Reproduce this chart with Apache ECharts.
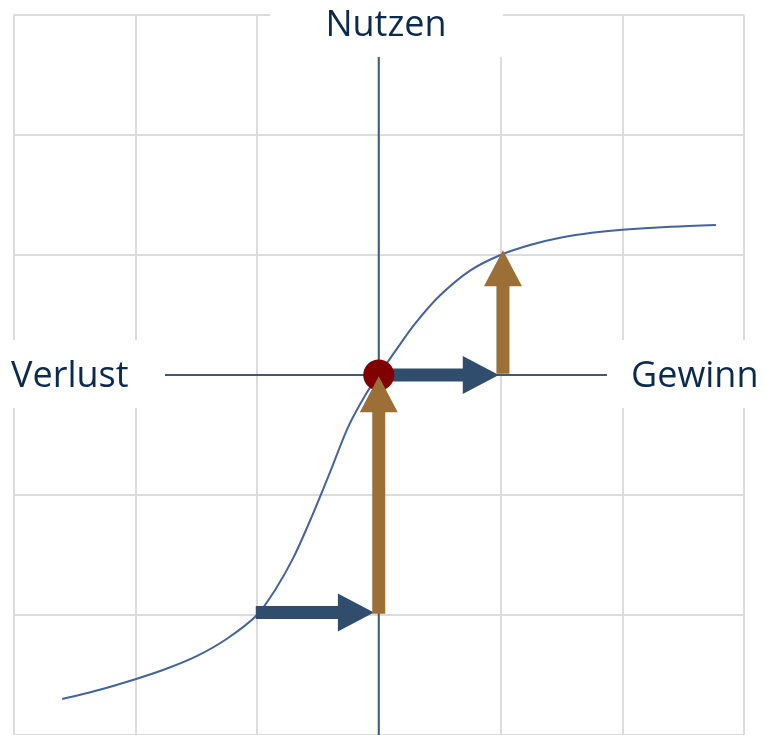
<!DOCTYPE html>
<html>
<head>
<meta charset="utf-8">
<script src="https://cdn.jsdelivr.net/npm/echarts@6/dist/echarts.min.js"></script>
<style>html,body{margin:0;padding:0;background:#fff;}#c{width:765px;height:735px;}</style>
</head>
<body>
<div id="c"></div>
<script>
// Curve (utility function) points
const curveX = [-2.6, -2.3, -2.0, -1.75, -1.5, -1.25, -1.0, -0.85, -0.7, -0.55, -0.4, -0.25, -0.1, 0, 0.15, 0.3, 0.5, 0.75, 1.0, 1.25, 1.5, 1.75, 2.0, 2.4, 2.77];
const curveY = [-2.70, -2.625, -2.535, -2.45, -2.345, -2.20, -2.0, -1.79, -1.52, -1.18, -0.81, -0.43, -0.15, 0, 0.22, 0.43, 0.66, 0.87, 1.0, 1.085, 1.145, 1.185, 1.21, 1.235, 1.25];
// Axis lines [x0, y0, x1, y1]
const axisLines = [[-3.1, 0, 3.1, 0], [0, 3.1, 0, -3.1]];
// Arrows [xStart, yStart, xEnd, yEnd]
const blueArrows = [[-1.01, -1.98, -0.04, -1.98], [0, 0, 0.986, 0]];
const brownArrows = [[0, -1.99, 0, -0.01], [1.02, 0.01, 1.02, 1.04]];
// Reference point
const refPoint = [[0, 0]];
// Axis titles
const labelTop = 'Nutzen';
const labelLeft = 'Verlust';
const labelRight = 'Gewinn';

const chart = echarts.init(document.getElementById('c'), null, {renderer: 'canvas'});

function arrowRender(color) {
  return function (params, api) {
    const p0 = api.coord([api.value(0), api.value(1)]);
    const p1 = api.coord([api.value(2), api.value(3)]);
    const dx = p1[0] - p0[0], dy = p1[1] - p0[1];
    const len = Math.hypot(dx, dy);
    const ux = dx / len, uy = dy / len;
    const nx = -uy, ny = ux;
    const sw = 6.5, hw = 19, hl = 36;
    const b = [p1[0] - ux * hl, p1[1] - uy * hl];
    const pts = [
      [p0[0] + nx * sw, p0[1] + ny * sw],
      [b[0] + nx * sw, b[1] + ny * sw],
      [b[0] + nx * hw, b[1] + ny * hw],
      [p1[0], p1[1]],
      [b[0] - nx * hw, b[1] - ny * hw],
      [b[0] - nx * sw, b[1] - ny * sw],
      [p0[0] - nx * sw, p0[1] - ny * sw]
    ];
    return {type: 'polygon', shape: {points: pts}, style: {fill: color}};
  };
}
function lineRender(params, api) {
  const p0 = api.coord([api.value(0), api.value(1)]);
  const p1 = api.coord([api.value(2), api.value(3)]);
  return {type: 'line', shape: {x1: p0[0], y1: p0[1], x2: p1[0], y2: p1[1]}, style: {stroke: '#3c5a7a', lineWidth: 2}};
}

const font = '"Open Sans", "DejaVu Sans", sans-serif';
const textColor = '#0c2a4e';

chart.setOption({
  animation: false,
  backgroundColor: '#ffffff',
  grid: {left: 13.5, top: 15, width: 730.5, height: 722.4},
  xAxis: {
    type: 'value', min: -3, max: 3, interval: 1,
    axisLine: {show: false}, axisTick: {show: false}, axisLabel: {show: false},
    splitLine: {show: true, lineStyle: {color: '#dcdcdc', width: 2}}
  },
  yAxis: {
    type: 'value', min: -3, max: 3, interval: 1,
    axisLine: {show: false}, axisTick: {show: false}, axisLabel: {show: false},
    splitLine: {show: true, lineStyle: {color: '#dcdcdc', width: 2}}
  },
  series: [
    {type: 'custom', renderItem: lineRender, data: axisLines, encode: {x: [0, 2], y: [1, 3]}, silent: true, z: 2},
    {type: 'line', data: curveX.map((x, i) => [x, curveY[i]]), smooth: 0.3, showSymbol: false,
     lineStyle: {color: '#4463a0', width: 2}, z: 3, silent: true},
    {type: 'custom', renderItem: arrowRender('#304d6d'), data: blueArrows, encode: {x: [0, 2], y: [1, 3]}, z: 4, silent: true},
    {type: 'scatter', data: refPoint, symbolSize: 31, itemStyle: {color: '#800000', opacity: 1}, z: 5, silent: true},
    {type: 'custom', renderItem: arrowRender('#9b6f36'), data: brownArrows, encode: {x: [0, 2], y: [1, 3]}, z: 6, silent: true}
  ],
  graphic: [
    {type: 'rect', z: 100, shape: {x: 270, y: 0, width: 233, height: 57}, style: {fill: '#fff'}},
    {type: 'rect', z: 100, shape: {x: 0, y: 340, width: 165, height: 68}, style: {fill: '#fff'}},
    {type: 'rect', z: 100, shape: {x: 607, y: 340, width: 158, height: 68}, style: {fill: '#fff'}},
    {type: 'text', z: 101, x: 386, y: 26, style: {text: labelTop, font: '36px ' + font, fill: textColor, textAlign: 'center', textVerticalAlign: 'middle'}},
    {type: 'text', z: 101, x: 11, y: 377, style: {text: labelLeft, font: '36px ' + font, fill: textColor, textAlign: 'left', textVerticalAlign: 'middle'}},
    {type: 'text', z: 101, x: 631, y: 377, style: {text: labelRight, font: '36px ' + font, fill: textColor, textAlign: 'left', textVerticalAlign: 'middle'}}
  ]
});
</script>
</body>
</html>
